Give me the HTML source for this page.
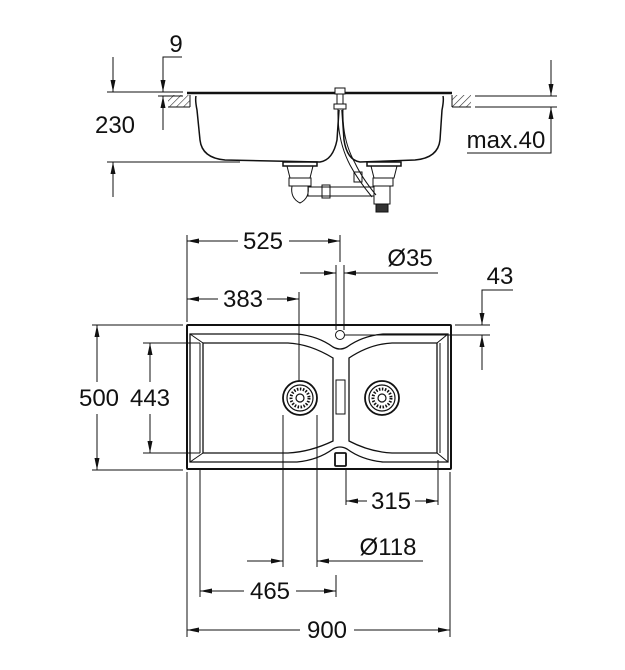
<!DOCTYPE html>
<html><head><meta charset="utf-8"><style>
html,body{margin:0;padding:0;background:#fff}
svg{display:block}
text{font-family:"Liberation Sans",Arial,sans-serif;font-size:24px;fill:#111;text-anchor:middle}
</style></head><body>
<svg width="625" height="670" viewBox="0 0 625 670" xmlns="http://www.w3.org/2000/svg">
<defs>
<marker id="a" viewBox="0 0 12 6" refX="12" refY="3" markerWidth="12" markerHeight="6" orient="auto-start-reverse" markerUnits="userSpaceOnUse"><path d="M0,0.5 L12,3 L0,5.5z" fill="#111"/></marker>
<pattern id="h" width="5" height="5" patternUnits="userSpaceOnUse" patternTransform="rotate(45)"><line x1="0" y1="0" x2="0" y2="5" stroke="#333" stroke-width="1.2"/></pattern>
</defs>
<g stroke="#111" fill="none" stroke-width="1">
<!-- TOP SIDE VIEW -->
<rect x="168" y="95" width="22" height="12" fill="url(#h)" stroke="none"/>
<line x1="168" y1="107" x2="190" y2="107"/><line x1="190" y1="95" x2="190" y2="107"/>
<rect x="452" y="95" width="19" height="12" fill="url(#h)" stroke="none"/>
<line x1="452" y1="107" x2="471" y2="107"/><line x1="452" y1="95" x2="452" y2="107"/>
<line x1="187" y1="93" x2="452" y2="93" stroke-width="2.5"/>
<path d="M196,96 Q195,100 197,110 L200,140 Q202,158 225,160 L320,162 Q333,160 337,140 L339,110" stroke-width="1.5"/>
<path d="M443,96 Q444,100 442,110 L440,140 Q438,158 415,160 L360,162 Q347,160 344,140 L342,110" stroke-width="1.5"/>
<rect x="335" y="88" width="10" height="6" fill="#fff"/>
<rect x="337" y="94" width="6" height="10"/>
<rect x="334" y="104" width="12" height="5"/>
<path d="M338,109 Q337,140 350,165 Q358,180 372,197"/>
<path d="M343,109 Q342,140 355,163 Q362,178 376,195"/>
<rect x="283" y="162" width="34" height="4" stroke-width="1.5"/>
<path d="M287,166 L290,178 L310,178 L313,166"/>
<rect x="289" y="178" width="22" height="8"/>
<path d="M292,186 Q290,198 300,203 Q310,198 308,186"/>
<rect x="308" y="187" width="66" height="9"/>
<rect x="322" y="185" width="8" height="13"/>
<rect x="367" y="162" width="34" height="4" stroke-width="1.5"/>
<path d="M371,166 L374,178 L394,178 L397,166"/>
<rect x="373" y="178" width="20" height="8"/>
<rect x="374" y="186" width="16" height="18"/>
<rect x="376" y="204" width="12" height="8" fill="#333"/>
<rect x="354" y="172" width="8" height="10"/>
<!-- top dims -->
<line x1="107" y1="92" x2="183" y2="92"/>
<line x1="158" y1="96" x2="183" y2="96"/>
<line x1="107" y1="162" x2="240" y2="162"/>
<line x1="113" y1="57" x2="113" y2="92" marker-end="url(#a)"/>
<line x1="113" y1="197" x2="113" y2="162" marker-end="url(#a)"/>
<polyline points="182,57 163,57 163,92" marker-end="url(#a)"/>
<line x1="163" y1="130" x2="163" y2="96" marker-end="url(#a)"/>
<line x1="475" y1="96" x2="557" y2="96"/>
<line x1="475" y1="107" x2="557" y2="107"/>
<line x1="551" y1="60" x2="551" y2="96" marker-end="url(#a)"/>
<polyline points="467,153 551,153 551,107" marker-end="url(#a)"/>

<!-- PLAN VIEW -->
<rect x="187" y="325" width="264" height="144" stroke-width="2" rx="1"/>
<path d="M190,334 L297,334 Q318,336 333,347 Q340,351 347,347 Q362,336 383,334 L448,334 L448,462 L383,462 Q362,460 347,449 Q340,445 333,449 Q318,460 297,462 L190,462 Z" stroke-width="1.3"/>
<path d="M203,343 L288,343 Q310,344 333,358 L333,441 Q310,452 288,453 L203,453 Z" stroke-width="1.3"/>
<path d="M437,343 L392,343 Q370,344 349,358 L349,441 Q370,452 392,453 L437,453 Z" stroke-width="1.3"/>
<line x1="190" y1="334" x2="203" y2="343"/><line x1="190" y1="462" x2="203" y2="453"/>
<line x1="448" y1="334" x2="437" y2="343"/><line x1="448" y1="462" x2="437" y2="453"/>
<line x1="200" y1="343" x2="200" y2="453"/><line x1="440" y1="343" x2="440" y2="453"/>
<rect x="336" y="380" width="9" height="34"/>
<circle cx="340" cy="335" r="4.5" fill="#fff"/>
<rect x="335" y="453" width="11" height="13" stroke-width="1.8" rx="1"/>
<g stroke-width="1.2">
<circle cx="300" cy="398" r="17" stroke-width="1.8"/><circle cx="300" cy="398" r="13"/><circle cx="300" cy="398" r="9" stroke-dasharray="1.5 1.5" stroke-width="3"/><circle cx="300" cy="398" r="4"/>
<circle cx="382" cy="398" r="17" stroke-width="1.8"/><circle cx="382" cy="398" r="13"/><circle cx="382" cy="398" r="9" stroke-dasharray="1.5 1.5" stroke-width="3"/><circle cx="382" cy="398" r="4"/>
</g>
<!-- extension lines -->
<line x1="187" y1="235" x2="187" y2="322"/>
<line x1="340" y1="235" x2="340" y2="262"/>
<line x1="336" y1="265" x2="336" y2="330"/>
<line x1="344" y1="265" x2="344" y2="330"/>
<line x1="299" y1="292" x2="299" y2="381"/>
<line x1="92" y1="325" x2="183" y2="325"/>
<line x1="92" y1="470" x2="183" y2="470"/>
<line x1="143" y1="343" x2="200" y2="343"/>
<line x1="143" y1="453" x2="200" y2="453"/>
<line x1="455" y1="325" x2="490" y2="325"/>
<line x1="345" y1="335" x2="490" y2="335"/>
<line x1="187" y1="472" x2="187" y2="637"/>
<line x1="450" y1="472" x2="450" y2="637"/>
<line x1="200" y1="470" x2="200" y2="597"/>
<line x1="283" y1="415" x2="283" y2="567"/>
<line x1="317" y1="415" x2="317" y2="567"/>
<line x1="336" y1="575" x2="336" y2="597"/>
<line x1="346" y1="470" x2="346" y2="505"/>
<line x1="438" y1="460" x2="438" y2="505"/>
<!-- dim lines -->
<line x1="238" y1="241" x2="187" y2="241" marker-end="url(#a)"/>
<line x1="289" y1="241" x2="340" y2="241" marker-end="url(#a)"/>
<line x1="300" y1="273" x2="336" y2="273" marker-end="url(#a)"/>
<line x1="438" y1="273" x2="344" y2="273" marker-end="url(#a)"/>
<line x1="218" y1="299" x2="187" y2="299" marker-end="url(#a)"/>
<line x1="267" y1="299" x2="299" y2="299" marker-end="url(#a)"/>
<polyline points="513,290 482,290 482,325" marker-end="url(#a)"/>
<line x1="482" y1="370" x2="482" y2="335" marker-end="url(#a)"/>
<line x1="97" y1="382" x2="97" y2="325" marker-end="url(#a)"/>
<line x1="97" y1="414" x2="97" y2="470" marker-end="url(#a)"/>
<line x1="150" y1="382" x2="150" y2="343" marker-end="url(#a)"/>
<line x1="150" y1="414" x2="150" y2="453" marker-end="url(#a)"/>
<line x1="367" y1="501" x2="346" y2="501" marker-end="url(#a)"/>
<line x1="415" y1="501" x2="438" y2="501" marker-end="url(#a)"/>
<line x1="247" y1="561" x2="283" y2="561" marker-end="url(#a)"/>
<line x1="423" y1="561" x2="317" y2="561" marker-end="url(#a)"/>
<line x1="244" y1="591" x2="200" y2="591" marker-end="url(#a)"/>
<line x1="296" y1="591" x2="336" y2="591" marker-end="url(#a)"/>
<line x1="300" y1="630" x2="187" y2="630" marker-end="url(#a)"/>
<line x1="354" y1="630" x2="450" y2="630" marker-end="url(#a)"/>
</g>
<text x="176" y="52">9</text>
<text x="115" y="133">230</text>
<text x="506" y="148">max.40</text>
<text x="263" y="249">525</text>
<text x="410" y="266">Ø35</text>
<text x="500" y="284">43</text>
<text x="243" y="307">383</text>
<text x="99" y="406">500</text>
<text x="150" y="406">443</text>
<text x="391" y="509">315</text>
<text x="388" y="555">Ø118</text>
<text x="270" y="599">465</text>
<text x="327" y="638">900</text>
</svg>
</body></html>
